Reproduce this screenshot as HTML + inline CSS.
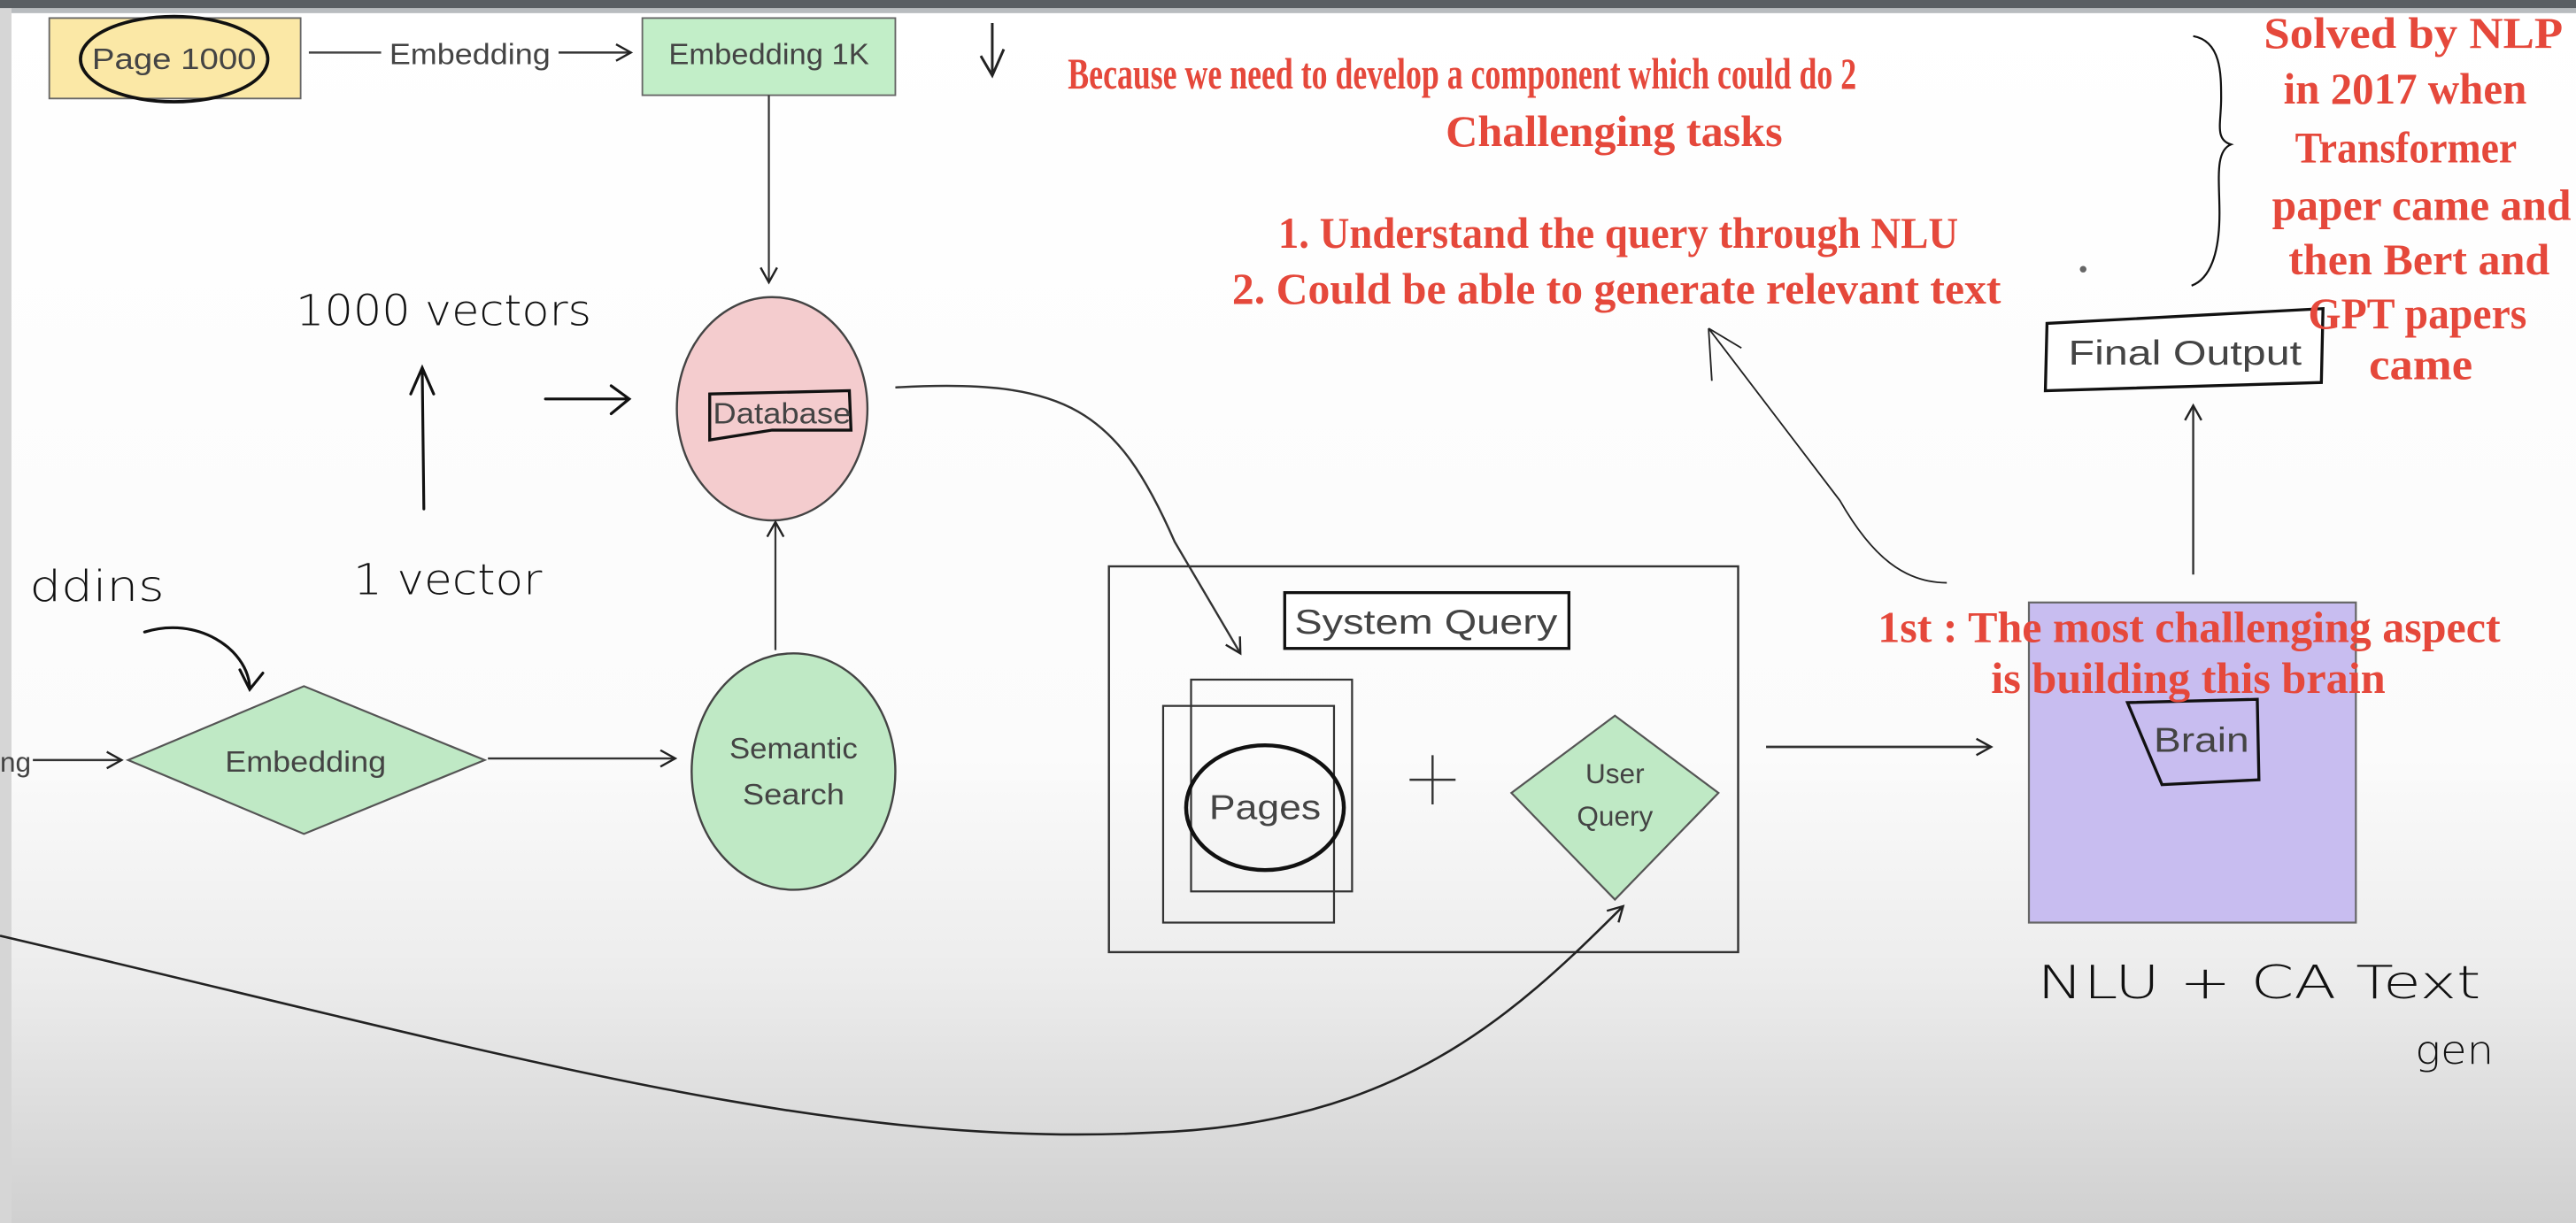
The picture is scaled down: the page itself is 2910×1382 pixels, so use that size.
<!DOCTYPE html>
<html><head><meta charset="utf-8"><style>
html,body{margin:0;padding:0;background:#fff}
svg{display:block}
</style></head><body>
<svg width="2910" height="1382" viewBox="0 0 1568 745" preserveAspectRatio="none" xmlns="http://www.w3.org/2000/svg">
<defs>
<linearGradient id="bg" x1="0" y1="0" x2="0" y2="1">
<stop offset="0" stop-color="#ffffff"/><stop offset="0.62" stop-color="#fbfbfb"/><stop offset="0.8" stop-color="#ececec"/><stop offset="1" stop-color="#d0d0d0"/>
</linearGradient>
<marker id="ah" markerWidth="12" markerHeight="12" refX="10" refY="6" orient="auto" markerUnits="userSpaceOnUse"><path d="M1,1 L10,6 L1,11" fill="none" stroke="#222" stroke-width="1.3"/></marker>
</defs>
<rect width="1568" height="745" fill="url(#bg)"/>
<rect x="0" y="0" width="1568" height="5" fill="#5a5f63"/>
<rect x="0" y="5" width="1568" height="3" fill="#b8bcbf"/>
<rect x="0" y="5" width="7" height="740" fill="#d6d6d6"/>

<g font-family="Liberation Sans, sans-serif" fill="#444" stroke="none">
<rect x="30" y="11" width="153" height="49" fill="#fbe8a6" stroke="#666" stroke-width="1"/>
<text x="106" y="42" font-size="18" text-anchor="middle" textLength="100" lengthAdjust="spacingAndGlyphs">Page 1000</text>
<ellipse cx="106" cy="36" rx="57" ry="26" fill="none" stroke="#111" stroke-width="2"/>
<line x1="188" y1="32" x2="232" y2="32" stroke="#444" stroke-width="1.3"/>
<text x="286" y="39" font-size="18" text-anchor="middle" textLength="98" lengthAdjust="spacingAndGlyphs">Embedding</text>
<line x1="340" y1="32" x2="384" y2="32" stroke="#333" stroke-width="1.3" marker-end="url(#ah)"/>
<rect x="391" y="11" width="154" height="47" fill="#c2eec8" stroke="#666" stroke-width="1"/>
<text x="468" y="39" font-size="18" text-anchor="middle" textLength="122" lengthAdjust="spacingAndGlyphs">Embedding 1K</text>
<line x1="468" y1="58" x2="468" y2="172" stroke="#333" stroke-width="1.2" marker-end="url(#ah)"/>
<path d="M604,14 L604,44 M597,34 L604,46 L611,30" fill="none" stroke="#222" stroke-width="1.6"/>

<ellipse cx="470" cy="249" rx="58" ry="68" fill="#f4ccce" stroke="#444" stroke-width="1.3"/>
<path d="M432,240 L517,238 L518,262 L470,262 L432,268 Z" fill="none" stroke="#111" stroke-width="1.8"/>
<text x="476" y="258" font-size="18" text-anchor="middle" textLength="84" lengthAdjust="spacingAndGlyphs">Database</text>
<path d="M545,236 C650,230 680,250 715,330 L755,398" fill="none" stroke="#333" stroke-width="1.3" marker-end="url(#ah)"/>

<g fill="none" stroke="#111" stroke-width="1.7" stroke-linecap="round">
<path d="M258,310 L257,224 M250,240 L257,224 L264,240"/>
<path d="M332,243 L382,243 M372,235 L383,243 L372,252"/>
<path d="M88,385 C120,375 150,395 152,418 M146,408 L152,420 L160,410"/>
</g>
<g font-family="DejaVu Sans, sans-serif" fill="#111" font-weight="200">
<text x="180" y="198" font-size="26" textLength="180" lengthAdjust="spacingAndGlyphs">1000 vectors</text>
<text x="215" y="362" font-size="26" textLength="115" lengthAdjust="spacingAndGlyphs">1 vector</text>
<text x="18" y="366" font-size="26" textLength="82" lengthAdjust="spacingAndGlyphs">ddins</text>
<text x="1240" y="608" font-size="28" textLength="270" lengthAdjust="spacingAndGlyphs">NLU + CA Text</text>
<text x="1470" y="648" font-size="24" textLength="48" lengthAdjust="spacingAndGlyphs">gen</text>
</g>

<text x="0" y="470" font-size="17">ng</text>
<line x1="20" y1="463" x2="74" y2="463" stroke="#333" stroke-width="1.3" marker-end="url(#ah)"/>
<polygon points="78,463 185,418 295,463 185,508" fill="#bfe9c5" stroke="#555" stroke-width="1.2"/>
<text x="186" y="470" font-size="18" text-anchor="middle" textLength="98" lengthAdjust="spacingAndGlyphs">Embedding</text>
<line x1="297" y1="462" x2="411" y2="462" stroke="#333" stroke-width="1.3" marker-end="url(#ah)"/>
<ellipse cx="483" cy="470" rx="62" ry="72" fill="#bfe9c5" stroke="#444" stroke-width="1.3"/>
<text x="483" y="462" font-size="18" text-anchor="middle" textLength="78" lengthAdjust="spacingAndGlyphs">Semantic</text>
<text x="483" y="490" font-size="18" text-anchor="middle" textLength="62" lengthAdjust="spacingAndGlyphs">Search</text>
<line x1="472" y1="396" x2="472" y2="318" stroke="#333" stroke-width="1.2" marker-end="url(#ah)"/>

<rect x="675" y="345" width="383" height="235" fill="none" stroke="#333" stroke-width="1.3"/>
<rect x="782" y="361" width="173" height="34" fill="#fff" stroke="#111" stroke-width="1.8"/>
<text x="868" y="386" font-size="21" text-anchor="middle" textLength="160" lengthAdjust="spacingAndGlyphs">System Query</text>
<rect x="725" y="414" width="98" height="129" fill="none" stroke="#333" stroke-width="1.2"/>
<rect x="708" y="430" width="104" height="132" fill="none" stroke="#333" stroke-width="1.2"/>
<ellipse cx="770" cy="492" rx="48" ry="38" fill="none" stroke="#111" stroke-width="2.4"/>
<text x="770" y="499" font-size="21" text-anchor="middle" textLength="68" lengthAdjust="spacingAndGlyphs">Pages</text>
<path d="M872,460 L872,490 M858,475 L886,475" stroke="#333" stroke-width="1.3"/>
<polygon points="983,436 1046,483 983,548 920,483" fill="#bfe9c5" stroke="#555" stroke-width="1.2"/>
<text x="983" y="477" font-size="17" text-anchor="middle">User</text>
<text x="983" y="503" font-size="17" text-anchor="middle">Query</text>
<path d="M0,570 C300,640 500,700 700,690 C850,685 920,620 988,552" fill="none" stroke="#222" stroke-width="1.4" marker-end="url(#ah)"/>
<line x1="1075" y1="455" x2="1212" y2="455" stroke="#333" stroke-width="1.5" marker-end="url(#ah)"/>

<rect x="1235" y="367" width="199" height="195" fill="#c8bdf0" stroke="#666" stroke-width="1.2"/>
<path d="M1295,428 L1374,426 L1375,475 L1316,478 Z" fill="none" stroke="#111" stroke-width="1.8"/>
<text x="1340" y="458" font-size="21" text-anchor="middle" textLength="58" lengthAdjust="spacingAndGlyphs">Brain</text>
<line x1="1335" y1="350" x2="1335" y2="247" stroke="#333" stroke-width="1.3" marker-end="url(#ah)"/>
<path d="M1246,197 L1414,188 L1413,233 L1245,238 Z" fill="#fff" stroke="#111" stroke-width="1.8"/>
<text x="1330" y="222" font-size="21" text-anchor="middle" textLength="142" lengthAdjust="spacingAndGlyphs">Final Output</text>
<circle cx="1268" cy="164" r="2" fill="#666"/>
<path d="M1335,22 C1352,25 1352,45 1352,60 C1352,75 1348,85 1358,88 C1348,92 1351,110 1351,130 C1351,155 1345,170 1334,174" fill="none" stroke="#111" stroke-width="1.2"/>
<path d="M1185,355 C1160,355 1140,340 1120,305 L1040,200 M1040,200 L1042,232 M1040,200 L1060,212" fill="none" stroke="#222" stroke-width="1"/>
</g>

<g font-family="Liberation Serif, serif" font-weight="bold" fill="#e5483b" font-size="27">
<text x="650" y="54" textLength="480" lengthAdjust="spacingAndGlyphs">Because we need to develop a component which could do 2</text>
<text x="880" y="89" textLength="205" lengthAdjust="spacingAndGlyphs">Challenging tasks</text>
<text x="778" y="151" textLength="414" lengthAdjust="spacingAndGlyphs">1. Understand the query through NLU</text>
<text x="750" y="185" textLength="468" lengthAdjust="spacingAndGlyphs">2. Could be able to generate relevant text</text>
<text x="1378" y="29" textLength="182" lengthAdjust="spacingAndGlyphs">Solved by NLP</text>
<text x="1390" y="63" textLength="148" lengthAdjust="spacingAndGlyphs">in 2017 when</text>
<text x="1397" y="99" textLength="135" lengthAdjust="spacingAndGlyphs">Transformer</text>
<text x="1383" y="134" textLength="182" lengthAdjust="spacingAndGlyphs">paper came and</text>
<text x="1393" y="167" textLength="159" lengthAdjust="spacingAndGlyphs">then Bert and</text>
<text x="1405" y="200" textLength="133" lengthAdjust="spacingAndGlyphs">GPT papers</text>
<text x="1442" y="231" textLength="63" lengthAdjust="spacingAndGlyphs">came</text>
<text x="1143" y="391" textLength="379" lengthAdjust="spacingAndGlyphs">1st : The most challenging aspect</text>
<text x="1212" y="422" textLength="240" lengthAdjust="spacingAndGlyphs">is building this brain</text>
</g>
</svg>
</body></html>
